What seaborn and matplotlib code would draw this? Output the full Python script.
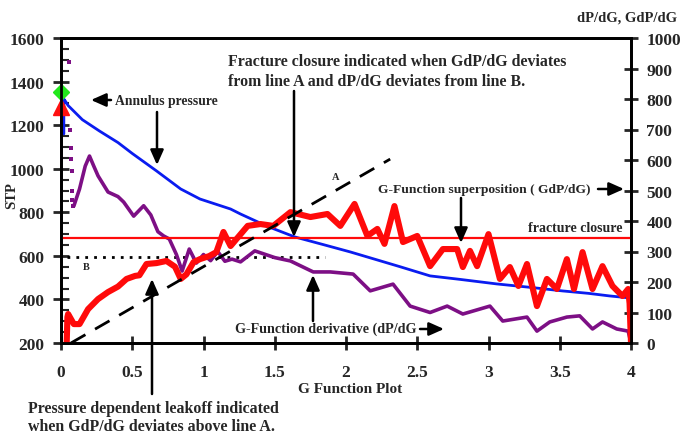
import numpy as np
import pandas as pd
import matplotlib
matplotlib.use("Agg")
import matplotlib.pyplot as plt
import seaborn as sns

# ---- data -------------------------------------------------------------
# Annulus pressure (STP, left axis)
annulus_g = [0.02, 0.02, 0.03, 0.05, 0.15, 0.27, 0.40, 0.50, 0.67, 0.84, 0.975,
             1.19, 1.26, 1.45, 1.64, 1.85, 2.03, 2.20, 2.38, 2.59, 2.80, 3.06,
             3.30, 3.52, 3.70, 3.85, 3.99]
annulus_p = [1160, 1320, 1311, 1290, 1225, 1173, 1120, 1070, 990, 907, 861,
             815, 792, 735, 687, 650, 618, 585, 550, 508, 492, 471,
             455, 439, 428, 416, 407]

# G-function derivative dP/dG (right axis)
deriv_scatter_g = [0.055, 0.065, 0.07, 0.072, 0.075, 0.078, 0.08, 0.085]
deriv_scatter_v = [921, 700, 640, 603, 564, 498, 470, 449]
deriv_g = [0.09, 0.13, 0.17, 0.20, 0.23, 0.26, 0.33, 0.40, 0.44, 0.51, 0.58,
           0.63, 0.68, 0.72, 0.76, 0.81, 0.85, 0.90, 0.95, 1.00, 1.05, 1.10,
           1.15, 1.20, 1.26, 1.36, 1.50, 1.61, 1.77, 1.89, 2.05, 2.17, 2.33,
           2.45, 2.59, 2.71, 2.82, 3.01, 3.10, 3.27, 3.34, 3.43, 3.55, 3.64,
           3.73, 3.80, 3.90, 3.98, 4.00]
deriv_v = [449, 505, 580, 613, 580, 548, 495, 480, 462, 416, 450,
           420, 365, 351, 341, 290, 236, 308, 262, 290, 270, 300,
           268, 275, 266, 302, 280, 269, 233, 233, 226, 171, 193,
           121, 100, 121, 95, 121, 72, 85, 39, 69, 85, 89,
           46, 69, 46, 39, 0]

# G-function superposition GdP/dG (right axis)
super_g = [0.04, 0.045, 0.05, 0.09, 0.13, 0.19, 0.26, 0.33, 0.40, 0.46, 0.52,
           0.55, 0.60, 0.67, 0.74, 0.80, 0.84, 0.88, 0.93, 0.975, 1.04, 1.09,
           1.14, 1.19, 1.31, 1.40, 1.49, 1.61, 1.75, 1.87, 1.96, 2.06, 2.15,
           2.22, 2.27, 2.34, 2.40, 2.50, 2.59, 2.68, 2.78, 2.82, 2.87, 2.92,
           3.00, 3.08, 3.15, 3.21, 3.27, 3.34, 3.41, 3.48, 3.55, 3.60, 3.66,
           3.73, 3.80, 3.87, 3.94, 3.98, 3.99, 4.00]
super_v = [0, 85, 95, 62, 62, 111, 144, 167, 185, 210, 220,
           222, 259, 262, 269, 250, 210, 225, 265, 275, 285, 298,
           364, 318, 384, 390, 384, 429, 413, 423, 384, 456, 351,
           374, 325, 449, 331, 351, 252, 308, 308, 249, 302, 252,
           357, 210, 249, 187, 259, 121, 210, 177, 275, 177, 298,
           177, 252, 187, 154, 177, 130, 0]

# straight-line references
line_a_g = [0.07, 2.31]
line_a_v = [0, 603]
line_b_g = [0.04, 1.85]
line_b_p = [595, 595]
closure_level = 344          # GdP/dG at fracture closure
isip_diamond = 1352
isip_triangle = 1283

x_ticks = [0, 0.5, 1, 1.5, 2, 2.5, 3, 3.5, 4]
x_labels = ["0", "0.5", "1", "1.5", "2", "2.5", "3", "3.5", "4"]

# ---- style ------------------------------------------------------------
sns.set_style("ticks")
plt.rcParams["font.family"] = ["Liberation Serif", "DejaVu Serif"]
plt.rcParams["font.weight"] = "bold"

W, H = 683, 435
fig = plt.figure(figsize=(W / 100, H / 100), dpi=100)
ax = fig.add_axes([61 / W, (H - 344) / H, (631 - 61) / W, (344 - 39) / H])
ax2 = ax.twinx()

# left axis: annulus pressure
sns.lineplot(x=annulus_g, y=annulus_p, ax=ax, color="#0a1cf0", lw=2.0,
             sort=False, estimator=None)
sns.lineplot(x=line_b_g, y=line_b_p, ax=ax, color="black", lw=2,
             linestyle=(0, (1, 2.2)), estimator=None)
ax.plot([0], [isip_diamond], marker="D", color="#22e81c", ms=8,
        clip_on=False, zorder=10, ls="none")
ax.plot([0], [isip_triangle], marker="^", color="#ff1010", ms=11,
        clip_on=False, zorder=10, ls="none")

# right axis: derivative and superposition
sns.lineplot(x=deriv_g, y=deriv_v, ax=ax2, color="#7d0f85", lw=2.6,
             sort=False, estimator=None)
sns.scatterplot(x=deriv_scatter_g, y=deriv_scatter_v, ax=ax2, color="#7d0f85",
                marker="s", s=10, linewidth=0)
sns.lineplot(x=super_g, y=super_v, ax=ax2, color="#ff0a0a", lw=4.4,
             sort=False, estimator=None)
ax2.axhline(closure_level, color="#ff0a0a", lw=1.6)
sns.lineplot(x=line_a_g, y=line_a_v, ax=ax2, color="black", lw=2,
             linestyle=(0, (6, 4)), estimator=None)

# ---- axes -------------------------------------------------------------
ax.set_xlim(0, 4)
ax.set_ylim(200, 1600)
ax2.set_ylim(0, 1000)
ax.set_xticks(x_ticks)
ax.set_xticklabels(x_labels)
ax.set_yticks(range(200, 1601, 200))
ax.set_yticks(range(200, 1601, 50), minor=True)
ax2.set_yticks(range(0, 1001, 100))
ax.set_xlabel("")
ax.set_ylabel("")
ax2.set_ylabel("")

for a in (ax, ax2):
    for s in a.spines.values():
        s.set_linewidth(2)
        s.set_color("black")
        s.set_visible(True)
ax.tick_params(axis="both", which="major", direction="inout", length=12,
               width=2, labelsize=12.5, pad=6)
ax.tick_params(axis="x", which="major", length=10, pad=10)
ax.tick_params(axis="y", which="minor", direction="in", length=6, width=1.5)
ax.tick_params(axis="x", which="minor", length=0)
ax2.tick_params(axis="y", which="major", direction="inout", length=10,
                width=2, labelsize=12.5, pad=6)
for lab in ax.get_xticklabels() + ax.get_yticklabels() + ax2.get_yticklabels():
    lab.set_fontweight("bold")


def ftext(x, y, s, size=9, ha="left", va="center", **kw):
    fig.text(x / W, (H - y) / H, s, fontsize=size, ha=ha, va=va,
             fontweight="bold", **kw)


def farrow(x0, y0, x1, y1):
    fig.add_artist(matplotlib.patches.FancyArrowPatch(
        (x0 / W, (H - y0) / H), (x1 / W, (H - y1) / H),
        transform=fig.transFigure,
        arrowstyle="-|>,head_length=0.9,head_width=0.4",
        mutation_scale=10, color="black", lw=1.8, zorder=20,
        shrinkA=0, shrinkB=0))


# ---- labels & notes ---------------------------------------------------
ftext(12, 196, "STP", size=10.5, ha="center", rotation=90)
ftext(577, 18, "dP/dG, GdP/dG", size=10.5)
ftext(350, 390, "G Function Plot", size=11, ha="center")

ftext(228, 72, "Fracture closure indicated when GdP/dG deviates\n"
      "from line A and dP/dG deviates from line B.", size=11.4,
      linespacing=1.25)
farrow(294, 92, 294, 238)

ftext(115, 102, "Annulus pressure", size=9.8)
farrow(111, 101, 91, 101)
farrow(157, 113, 157, 166)

ftext(336, 177, "A", size=7.5, ha="center")
ftext(86, 268, "B", size=7.5, ha="center")

ftext(378, 190, "G-Function superposition ( GdP/dG)", size=9.7)
farrow(598, 190, 624, 190)
farrow(461, 199, 461, 244)

ftext(623, 229, "fracture closure", size=10, ha="right")

ftext(235, 329, "G-Function derivative (dP/dG", size=10.2)
farrow(420, 330, 444, 330)
farrow(313, 322, 313, 276)

ftext(28, 418, "Pressure dependent leakoff indicated\n"
      "when GdP/dG deviates above line A.", size=11.4, linespacing=1.15)
farrow(152, 395, 152, 280)

fig.savefig("out.png", dpi=100)
